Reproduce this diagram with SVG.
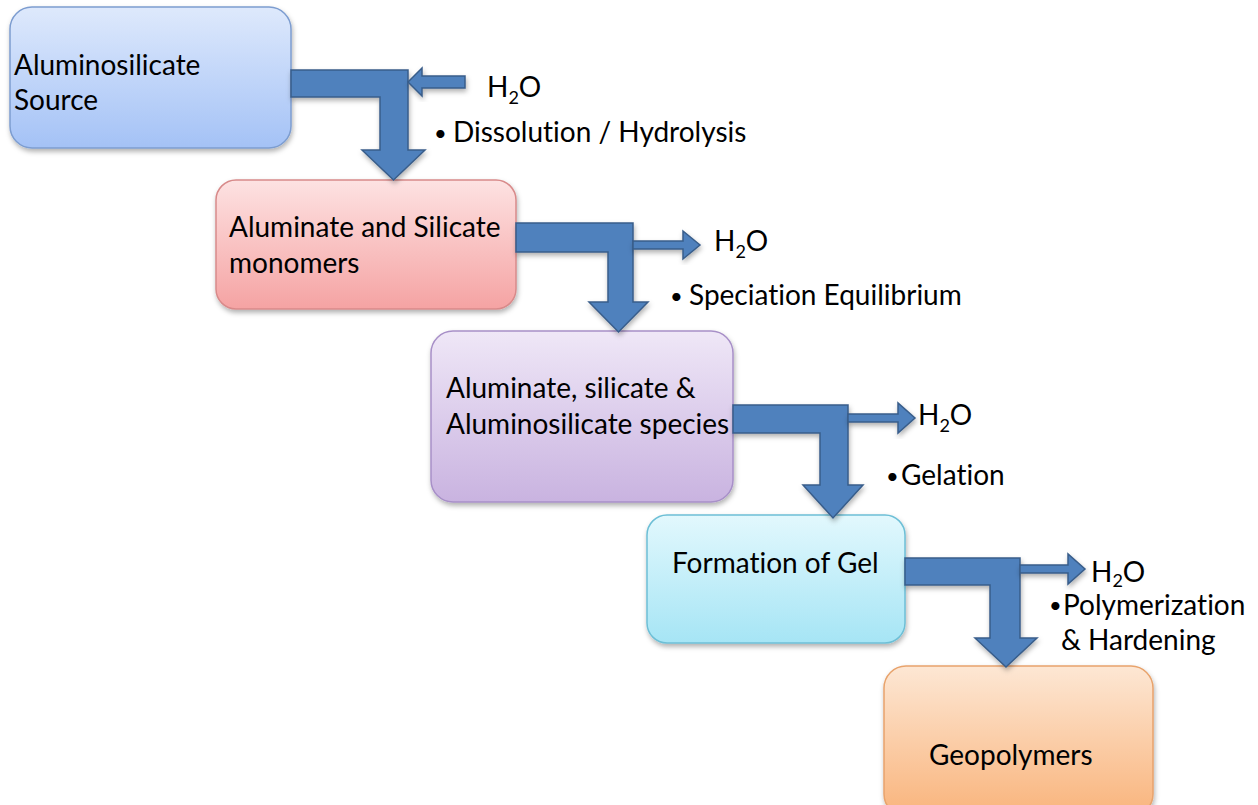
<svg xmlns="http://www.w3.org/2000/svg" width="1258" height="805" viewBox="0 0 1258 805">
<defs>
<linearGradient id="gBlue" x1="0" y1="0" x2="0" y2="1"><stop offset="0" stop-color="#dee9fc"/><stop offset="1" stop-color="#a4c2f6"/></linearGradient>
<linearGradient id="gRed" x1="0" y1="0" x2="0" y2="1"><stop offset="0" stop-color="#fde2e2"/><stop offset="1" stop-color="#f5a3a3"/></linearGradient>
<linearGradient id="gPurple" x1="0" y1="0" x2="0" y2="1"><stop offset="0" stop-color="#efe7f7"/><stop offset="1" stop-color="#c9b3e0"/></linearGradient>
<linearGradient id="gCyan" x1="0" y1="0" x2="0" y2="1"><stop offset="0" stop-color="#e2f8fd"/><stop offset="1" stop-color="#a6e5f5"/></linearGradient>
<linearGradient id="gOrange" x1="0" y1="0" x2="0" y2="1"><stop offset="0" stop-color="#fde7d4"/><stop offset="1" stop-color="#f9b47c"/></linearGradient>
<filter id="sh" x="-10%" y="-10%" width="125%" height="130%"><feDropShadow dx="1" dy="3" stdDeviation="2.5" flood-color="#000" flood-opacity="0.3"/></filter>
</defs>
<style>
text{font-family:Lato,"Open Sans",sans-serif;fill:#000;font-variant-ligatures:none;}
.lbl{font-size:28px;}
.sub{font-size:18px;}
.bul{font-size:22px;}
.arr{fill:#4f81bd;stroke:#385d8a;stroke-width:1.5;stroke-linejoin:miter;filter:url(#sh);}
</style>
<g id="node1"><rect x="10" y="7" width="281" height="141" rx="22" fill="url(#gBlue)" stroke="#7d9dd0" stroke-width="1.5" filter="url(#sh)"/>
<text class="lbl" x="14" y="75">Aluminosilicate</text><text class="lbl" x="14" y="110">Source</text></g>
<g id="node2"><rect x="216" y="180" width="300" height="129" rx="20" fill="url(#gRed)" stroke="#d88a8a" stroke-width="1.5" filter="url(#sh)"/>
<text class="lbl" x="229" y="237">Aluminate and Silicate</text><text class="lbl" x="229" y="273">monomers</text></g>
<g id="node3"><rect x="431" y="331" width="302" height="171" rx="22" fill="url(#gPurple)" stroke="#a890c8" stroke-width="1.5" filter="url(#sh)"/>
<text class="lbl" x="446" y="398">Aluminate, silicate &amp;</text><text class="lbl" x="446" y="434">Aluminosilicate species</text></g>
<g id="node4"><rect x="647" y="515" width="258" height="128" rx="20" fill="url(#gCyan)" stroke="#6dbfd6" stroke-width="1.5" filter="url(#sh)"/>
<text class="lbl" x="672" y="573">Formation of Gel</text></g>
<g id="node5"><rect x="884" y="666" width="269" height="150" rx="22" fill="url(#gOrange)" stroke="#e8a36c" stroke-width="1.5" filter="url(#sh)"/>
<text class="lbl" x="929" y="765">Geopolymers</text></g>
<g id="connectors">
<path class="arr" d="M291,70 H408 V150 H425 L393.5,180 L362,150 H380 V97 H291 Z"/>
<path class="arr" d="M408,82 L422,68 V76 H465 V88 H422 V96 Z"/>
<path class="arr" d="M516,223 H633 V302 H648 L618.5,332 L589,302 H608 V252 H516 Z"/>
<path class="arr" d="M633,241 H683 V231 L700,245 L683,259 V249 H633 Z"/>
<path class="arr" d="M733,405 H848 V485 H863 L833,518 L803,485 H820 V433 H733 Z"/>
<path class="arr" d="M848,414 H898 V403 L915,418 L898,433 V422 H848 Z"/>
<path class="arr" d="M905,558 H1020 V638 H1037 L1006,667 L975,638 H990 V585 H905 Z"/>
<path class="arr" d="M1020,565 H1068 V554 L1085,569 L1068,584 V573 H1020 Z"/>
</g>
<g id="labels">
<text class="lbl" x="487" y="97">H<tspan class="sub" dy="7">2</tspan><tspan dy="-7">O</tspan></text>
<text class="bul" x="434" y="141">•</text><text class="lbl" x="453" y="142">Dissolution / Hydrolysis</text>
<text class="lbl" x="714" y="251">H<tspan class="sub" dy="7">2</tspan><tspan dy="-7">O</tspan></text>
<text class="bul" x="670" y="304">•</text><text class="lbl" x="689" y="305">Speciation Equilibrium</text>
<text class="lbl" x="918" y="425">H<tspan class="sub" dy="7">2</tspan><tspan dy="-7">O</tspan></text>
<text class="bul" x="886" y="484">•</text><text class="lbl" x="901" y="485">Gelation</text>
<text class="lbl" x="1091" y="582">H<tspan class="sub" dy="5">2</tspan><tspan dy="-5">O</tspan></text>
<text class="bul" x="1049" y="613">•</text><text class="lbl" x="1063" y="615">Polymerization</text>
<text class="lbl" x="1061" y="650">&amp; Hardening</text>
</g>
</svg>
